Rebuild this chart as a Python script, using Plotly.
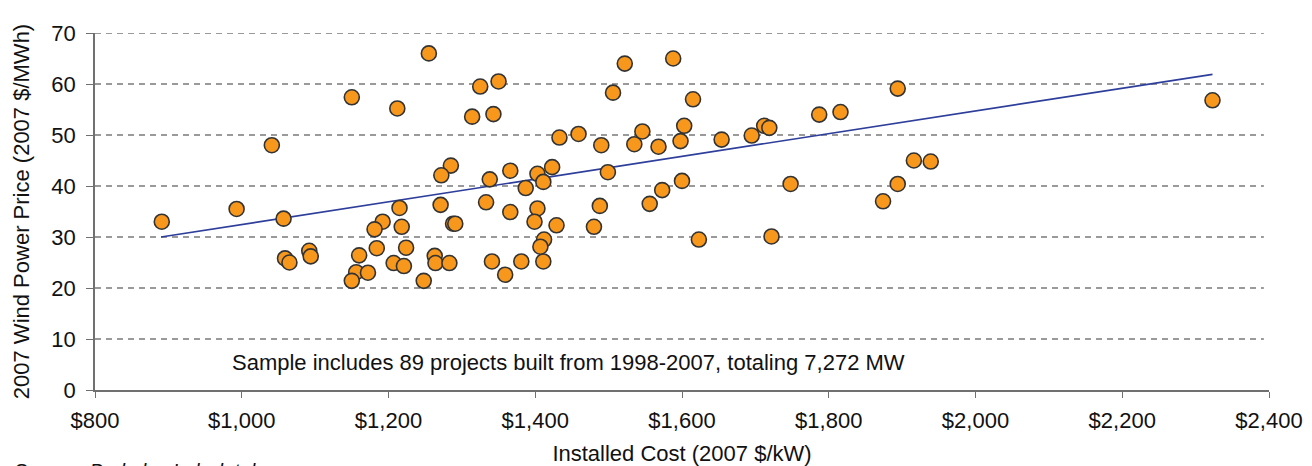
import plotly.graph_objects as go

# Installed cost (2007 $/kW)
cost = [891, 993, 1041, 1057, 1059, 1065, 1092, 1094, 1150, 1212,
        1255, 1325, 1350, 1314, 1343, 1522, 1506, 1433, 1459, 1490,
        1535, 1546, 1285, 1272, 1338, 1366, 1403, 1423, 1411, 1387,
        1499, 1215, 1271, 1333, 1366, 1403, 1399, 1429, 1488, 1480,
        1556, 1192, 1181, 1218, 1288, 1291, 1412, 1160, 1184, 1224,
        1156, 1172, 1150, 1207, 1221, 1248, 1263, 1264, 1283, 1341,
        1359, 1381, 1411, 1407, 1588, 1615, 1568, 1603, 1598, 1654,
        1695, 1712, 1719, 1787, 1816, 1894, 1916, 1939, 1894, 1874,
        1748, 1600, 1573, 1623, 1722, 2323]
# 2007 wind power price (2007 $/MWh)
price = [33.0, 35.5, 48.0, 33.6, 25.8, 25.0, 27.3, 26.2, 57.4, 55.2,
         66.0, 59.5, 60.5, 53.6, 54.1, 64.0, 58.3, 49.5, 50.2, 48.0,
         48.2, 50.7, 44.0, 42.1, 41.3, 43.0, 42.4, 43.7, 40.8, 39.6,
         42.7, 35.7, 36.3, 36.8, 34.9, 35.6, 33.0, 32.3, 36.1, 32.0,
         36.5, 33.0, 31.5, 32.0, 32.6, 32.6, 29.5, 26.4, 27.8, 27.9,
         23.1, 23.0, 21.4, 24.9, 24.3, 21.4, 26.3, 24.9, 24.9, 25.2,
         22.6, 25.2, 25.2, 28.1, 65.0, 57.0, 47.7, 51.8, 48.8, 49.1,
         49.9, 51.8, 51.4, 54.0, 54.5, 59.1, 45.0, 44.8, 40.4, 37.0,
         40.4, 41.0, 39.2, 29.5, 30.1, 56.8]

# Linear trend line endpoints
trend_x = [890, 2323]
trend_y = [30.0, 61.9]

x_ticks = [800, 1000, 1200, 1400, 1600, 1800, 2000, 2200, 2400]
x_tick_labels = ["$800", "$1,000", "$1,200", "$1,400", "$1,600",
                 "$1,800", "$2,000", "$2,200", "$2,400"]
y_ticks = [0, 10, 20, 30, 40, 50, 60, 70]

FONT = "Liberation Sans, Arial, sans-serif"

# page body adds an 8px offset; the figure is sized to compensate
W, H = 1304, 458
ML, MR, MT, MB = 87, 43, 25, 76

fig = go.Figure()

for yv in y_ticks[1:]:
    fig.add_shape(type="line", xref="x", yref="y", x0=800, x1=2393, y0=yv, y1=yv,
                  line=dict(color="#7A7A7A", width=1.4, dash="6px,5px"), layer="below")

fig.add_trace(go.Scatter(
    x=trend_x, y=trend_y, mode="lines",
    line=dict(color="#2E3E9B", width=1.7), hoverinfo="skip", showlegend=False))

fig.add_trace(go.Scatter(
    x=cost, y=price, mode="markers",
    marker=dict(size=15, color="#F7981D", line=dict(color="#333333", width=1.6)),
    showlegend=False))

fig.add_annotation(
    x=1445, y=5.4, xref="x", yref="y",
    text="Sample includes 89 projects built from 1998-2007, totaling 7,272 MW",
    showarrow=False, font=dict(family=FONT, size=22, color="#111111"))

plot_w = W - ML - MR
plot_h = H - MT - MB
fig.add_annotation(
    x=(5 - ML) / plot_w, y=(H - MB - 450) / plot_h, xref="paper", yref="paper",
    xanchor="left", yanchor="top",
    text="Source: <i>Berkeley Lab database</i>", showarrow=False,
    font=dict(family=FONT, size=20, color="#111111"))

fig.update_layout(
    width=W, height=H,
    margin=dict(l=ML, r=MR, t=MT, b=MB, autoexpand=False),
    plot_bgcolor="white", paper_bgcolor="white",
    font=dict(family=FONT, size=22, color="#111111"),
    xaxis=dict(
        range=[800, 2400], tickvals=x_ticks, ticktext=x_tick_labels,
        showgrid=False, zeroline=False, showline=True, linecolor="#707070",
        linewidth=1.5, ticks="outside", ticklen=6, tickcolor="#707070",
        tickfont=dict(size=22), ticklabelstandoff=4, automargin=False,
        title=dict(text="Installed Cost (2007 $/kW)", font=dict(size=22), standoff=13)),
    yaxis=dict(
        range=[0, 70], tickvals=y_ticks, showgrid=False, zeroline=False,
        showline=True, linecolor="#707070", linewidth=1.5, ticks="outside",
        ticklen=7, tickcolor="#707070", tickfont=dict(size=22),
        ticklabelstandoff=6, automargin=False,
        title=dict(text="2007 Wind Power Price (2007 $/MWh)", font=dict(size=22),
                   standoff=16)),
)

fig.write_html("out.html")
